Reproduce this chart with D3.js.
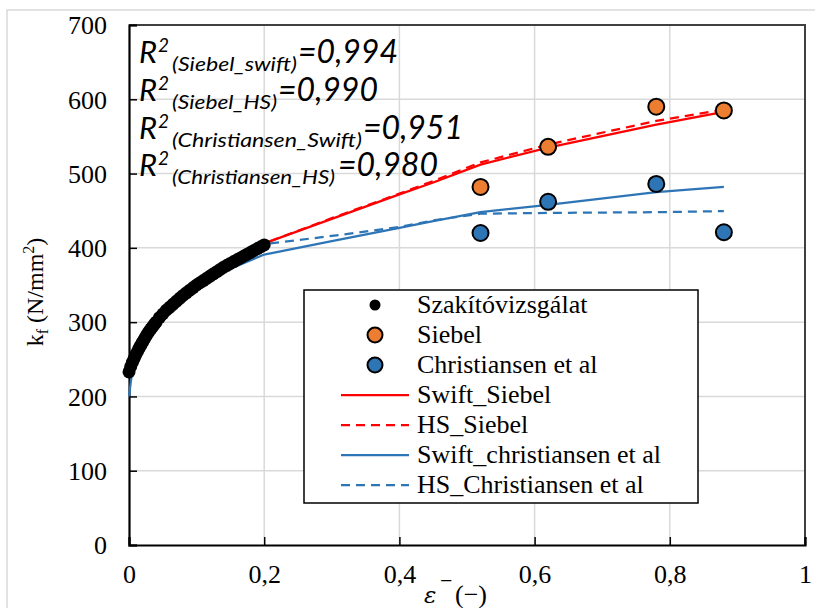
<!DOCTYPE html>
<html><head><meta charset="utf-8">
<script src="https://cdn.jsdelivr.net/npm/d3@7"></script>
<style>body{margin:0;background:#fff}svg{display:block}</style>
</head><body><svg id="c" width="815" height="608"></svg>
<script>
// ---- data ----
const xTicks = [0, 0.2, 0.4, 0.6, 0.8, 1];
const xTickLabels = ["0", "0,2", "0,4", "0,6", "0,8", "1"];
const yTicks = [0, 100, 200, 300, 400, 500, 600, 700];

// tensile test (Szakítóvizsgálat) - dense measured curve
const tensileEps = [0, 0.0025, 0.005, 0.0075, 0.01, 0.0125, 0.015, 0.0175, 0.02, 0.0225, 0.025, 0.0275, 0.03, 0.0325, 0.035, 0.0375, 0.04, 0.045, 0.05, 0.055, 0.06, 0.065, 0.07, 0.075, 0.08, 0.085, 0.09, 0.095, 0.10, 0.105, 0.11, 0.115, 0.12, 0.125, 0.13, 0.135, 0.14, 0.145, 0.15, 0.155, 0.16, 0.165, 0.17, 0.175, 0.18, 0.185, 0.19, 0.195, 0.20];
const tensileKf = [233, 240, 246, 251, 256, 260.5, 265, 269, 273, 277, 281, 284.5, 288, 291, 294, 297, 300, 306, 311, 316, 320, 324, 328, 332, 336, 339.5, 343, 346.5, 350, 353, 356, 359, 362, 365, 368, 371, 374, 376.5, 379, 381.5, 384, 386.5, 389, 391.5, 394, 396.5, 399, 401.5, 404];

// Siebel / Christiansen points
const pointEps = [0.52, 0.62, 0.78, 0.88];
const siebelKf = [482, 536, 590, 585];
const christiansenKf = [420, 462, 486, 421];

// fitted curves
const lineEps = [0, 0.05, 0.1, 0.15, 0.2, 0.3, 0.4, 0.45, 0.52, 0.62, 0.78, 0.88];
const swiftSiebel = [236, 312, 352, 381, 406, 439, 472, 488, 512, 535, 566, 583];
const hsSiebel = [236, 312, 352, 381, 406, 440, 473, 490, 515, 539, 571, 586];
const hsChristiansen = [236, 312, 352, 381, 405, 416, 428, 437, 446, 447, 448, 449.5];
const swiftChrEps = [0, 0.005, 0.01, 0.02, 0.05, 0.1, 0.15, 0.2, 0.3, 0.4, 0.45, 0.52, 0.62, 0.78, 0.88];
const swiftChristiansen = [200, 236, 250, 268, 304, 344, 372, 391, 409, 427, 436, 448, 458, 475, 482];

const r2Labels = [
  {sub: "(Siebel_swift)", val: "=0,994"},
  {sub: "(Siebel_HS)", val: "=0,990"},
  {sub: "(Christiansen_Swift)", val: "=0,951"},
  {sub: "(Christiansen_HS)", val: "=0,980"}
];
const legendItems = [
  {label: "Szakítóvizsgálat", type: "dot"},
  {label: "Siebel", type: "circle", color: "#ED7D31"},
  {label: "Christiansen et al", type: "circle", color: "#2E75B6"},
  {label: "Swift_Siebel", type: "line", color: "#FF0000", dash: null},
  {label: "HS_Siebel", type: "line", color: "#FF0000", dash: "9,6"},
  {label: "Swift_christiansen et al", type: "line", color: "#2E75B6", dash: null},
  {label: "HS_Christiansen et al", type: "line", color: "#2E75B6", dash: "9,6"}
];

// ---- drawing ----
const svg = d3.select("#c");
const serif = "'Liberation Serif','Times New Roman',serif";
const L = 129, R = 805, T = 25, B = 545;
const x = d3.scaleLinear().domain([0, 1]).range([L, R]);
const y = d3.scaleLinear().domain([0, 700]).range([B, T]);

// outer chart border
svg.append("rect").attr("x", 7).attr("y", 10).attr("width", 830).attr("height", 620)
  .attr("fill", "none").attr("stroke", "#D9D9D9").attr("stroke-width", 1.5);

// gridlines
svg.append("g").selectAll("line").data(yTicks.filter(d => d > 0 && d < 700)).join("line")
  .attr("x1", L).attr("x2", R).attr("y1", d => y(d)).attr("y2", d => y(d))
  .attr("stroke", "#D9D9D9").attr("stroke-width", 1.5);
svg.append("g").selectAll("line").data(xTicks.filter(d => d > 0 && d < 1)).join("line")
  .attr("y1", T).attr("y2", B).attr("x1", d => x(d)).attr("x2", d => x(d))
  .attr("stroke", "#D9D9D9").attr("stroke-width", 1.5);

// top/right frame
svg.append("path").attr("d", `M${L},${T}H${R}V${B}`).attr("fill", "none")
  .attr("stroke", "#404040").attr("stroke-width", 2);

// axes (inward ticks)
const xAxis = svg.append("g").attr("transform", `translate(0,${B})`)
  .call(d3.axisBottom(x).tickValues(xTicks).tickSize(-8).tickFormat((d, i) => xTickLabels[i]).tickPadding(20));
const yAxis = svg.append("g").attr("transform", `translate(${L},0)`)
  .call(d3.axisLeft(y).tickValues(yTicks).tickSize(-8).tickPadding(22));
[xAxis, yAxis].forEach(g => {
  g.select(".domain").attr("stroke", "#000").attr("stroke-width", 2.2);
  g.selectAll(".tick line").attr("stroke", "#000").attr("stroke-width", 1.5);
  g.selectAll(".tick text").attr("font-family", serif).attr("font-size", 26).attr("fill", "#000");
});
xAxis.selectAll(".tick text").attr("dy", "0.71em");
yAxis.selectAll(".tick text").attr("dy", "0.34em");

// fitted lines
const line = d3.line().x(d => x(d[0])).y(d => y(d[1]));
const series = [
  {e: lineEps, v: swiftSiebel, c: "#FF0000", dash: null},
  {e: lineEps, v: hsSiebel, c: "#FF0000", dash: "9,6"},
  {e: swiftChrEps, v: swiftChristiansen, c: "#2E75B6", dash: null},
  {e: lineEps, v: hsChristiansen, c: "#2E75B6", dash: "9,6"}
];
series.forEach(s => {
  svg.append("path").datum(s.e.map((e, i) => [e, s.v[i]]))
    .attr("d", line).attr("fill", "none").attr("stroke", s.c).attr("stroke-width", 2.25)
    .attr("stroke-linejoin", "round").attr("stroke-dasharray", s.dash);
});

// tensile dots
svg.append("g").selectAll("circle").data(tensileEps.map((e, i) => [e, tensileKf[i]])).join("circle")
  .attr("cx", d => x(d[0])).attr("cy", d => y(d[1])).attr("r", 6.5).attr("fill", "#000");

// Siebel / Christiansen points
[[siebelKf, "#ED7D31"], [christiansenKf, "#2E75B6"]].forEach(([vals, col]) => {
  svg.append("g").selectAll("circle").data(pointEps.map((e, i) => [e, vals[i]])).join("circle")
    .attr("cx", d => x(d[0])).attr("cy", d => y(d[1])).attr("r", 8)
    .attr("fill", col).attr("stroke", "#000").attr("stroke-width", 2);
});

// R² annotations
const subW = [125, 105, 190, 163];
const valX = [298, 278, 363, 338];
const ann = svg.append("g").attr("font-family", "Lato,'Open Sans',sans-serif").attr("font-style", "italic").attr("fill", "#000");
r2Labels.forEach((d, i) => {
  const by = 63 + i * 37.8;
  ann.append("text").attr("x", 139).attr("y", by).attr("font-size", 31).text("R");
  ann.append("text").attr("x", 158).attr("y", by - 11).attr("font-size", 19).text("2");
  ann.append("text").attr("x", 172).attr("y", by + 8).attr("font-size", 20)
    .attr("textLength", subW[i]).attr("lengthAdjust", "spacingAndGlyphs").text(d.sub);
  ann.append("text").attr("x", valX[i]).attr("y", by).attr("font-size", 32)
    .attr("textLength", 100).attr("lengthAdjust", "spacingAndGlyphs").text(d.val);
});

// axis titles
const yt = svg.append("text").attr("transform", "translate(43,292) rotate(-90)")
  .attr("text-anchor", "middle").attr("font-family", serif).attr("font-size", 24);
yt.append("tspan").text("k");
yt.append("tspan").attr("font-size", 16).attr("dy", 5).text("f");
yt.append("tspan").attr("dy", -5).text(" (N/mm");
yt.append("tspan").attr("font-size", 16).attr("dy", -9).text("2");
yt.append("tspan").attr("dy", 9).text(")");

svg.append("text").attr("x", 424).attr("y", 603).attr("font-family", "'DejaVu Serif',serif")
  .attr("font-style", "italic").attr("font-size", 23).text("ε");
svg.append("text").attr("x", 440).attr("y", 588).attr("font-family", serif).attr("font-size", 22).text("−");
svg.append("text").attr("x", 455).attr("y", 603).attr("font-family", serif).attr("font-size", 26).text("(−)");

// legend
const lg = svg.append("g");
lg.append("rect").attr("x", 304).attr("y", 290).attr("width", 394).attr("height", 213)
  .attr("fill", "#fff").attr("stroke", "#000").attr("stroke-width", 1.5);
legendItems.forEach((d, i) => {
  const cy = 305 + i * 30;
  if (d.type === "dot") lg.append("circle").attr("cx", 375).attr("cy", cy).attr("r", 5.5).attr("fill", "#000");
  else if (d.type === "circle") lg.append("circle").attr("cx", 375).attr("cy", cy).attr("r", 7.5)
    .attr("fill", d.color).attr("stroke", "#000").attr("stroke-width", 2);
  else lg.append("line").attr("x1", 341).attr("x2", 409).attr("y1", cy).attr("y2", cy)
    .attr("stroke", d.color).attr("stroke-width", 2.25).attr("stroke-dasharray", d.dash);
  lg.append("text").attr("x", 417).attr("y", cy + 8).attr("font-family", serif).attr("font-size", 26).text(d.label);
});
</script></body></html>
